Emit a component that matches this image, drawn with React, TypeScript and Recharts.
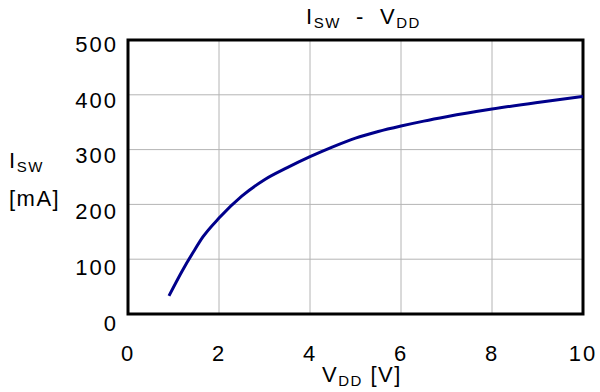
import React from 'react';
import { LineChart, Line, XAxis, YAxis, CartesianGrid, ReferenceArea } from 'recharts';

// values
const vdd = [0.9, 1.2, 1.45, 1.65, 2, 2.5, 3, 3.5, 4, 4.5, 5, 5.5, 6, 6.5, 7, 8, 9, 10];
const isw = [33, 80, 115, 141, 175, 215, 245, 267, 287, 305, 321, 333, 343, 352, 360, 374, 386, 397];
const xTicks = [0, 2, 4, 6, 8, 10];
const yTicks = [0, 100, 200, 300, 400, 500];

const data = vdd.map((v, i) => ({ vdd: v, isw: isw[i] }));

const FONT = '"Liberation Sans", Arial, sans-serif';

// labels in the original sit a little lower than their gridlines, more so near 0
const YTick = ({ x, y, payload }: any) => (
  <text x={x} y={y + 4 + (500 - payload.value) / 100} dy="0.35em" textAnchor="end" fontSize={22} letterSpacing={2} fill="#000" fontFamily={FONT}>
    {payload.value}
  </text>
);

const XTick = ({ x, y, payload }: any) => (
  <text x={x} y={y} dy="0.71em" textAnchor="middle" fontSize={22} letterSpacing={2} fill="#000" fontFamily={FONT}>
    {payload.value}
  </text>
);

const sub: React.CSSProperties = { fontSize: 15, position: 'relative', top: 4 };

export default function App() {
  return (
    <div style={{ position: 'absolute', left: 0, top: 0, width: 600, height: 392, background: '#fff', fontFamily: FONT, letterSpacing: 1.5 }}>
      <LineChart width={600} height={392} data={data} margin={{ top: 40, right: 17, left: 68, bottom: 48 }}>
        <CartesianGrid stroke="#b4b4b4" strokeWidth={1} />
        <XAxis
          dataKey="vdd"
          type="number"
          domain={[0, 10]}
          ticks={xTicks}
          axisLine={false}
          tickLine={false}
          tickSize={0}
          tickMargin={31}
          height={30}
          tick={<XTick />}
        />
        <YAxis
          type="number"
          domain={[0, 500]}
          ticks={yTicks}
          axisLine={false}
          tickLine={false}
          tickSize={0}
          tickMargin={10}
          width={60}
          tick={<YTick />}
        />
        <Line type="monotone" dataKey="isw" stroke="#00008b" strokeWidth={3} dot={false} isAnimationActive={false} />
        <ReferenceArea x1={0} x2={10} y1={0} y2={500} fill="none" stroke="#000" strokeWidth={3} ifOverflow="visible" />
      </LineChart>

      <div style={{ position: 'absolute', left: 306, top: 4, fontSize: 22, whiteSpace: 'nowrap' }}>
        I<span style={sub}>SW</span>&nbsp;&nbsp;-&nbsp;&nbsp;V<span style={sub}>DD</span>
      </div>
      <div style={{ position: 'absolute', left: 9, top: 143, fontSize: 22, whiteSpace: 'nowrap', lineHeight: '36px' }}>
        I<span style={sub}>SW</span>
        <br />
        [mA]
      </div>
      <div style={{ position: 'absolute', left: 322, top: 362, fontSize: 22, whiteSpace: 'nowrap' }}>
        V<span style={sub}>DD</span> [V]
      </div>
    </div>
  );
}
